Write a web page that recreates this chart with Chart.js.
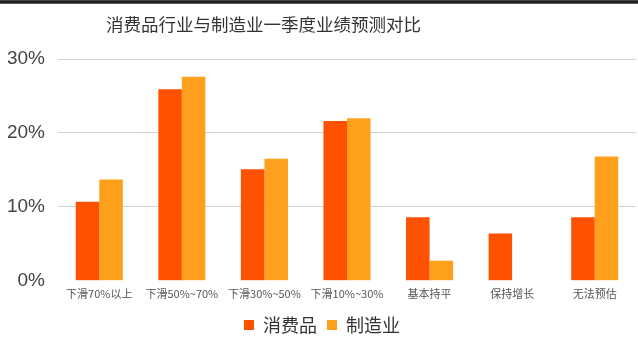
<!DOCTYPE html>
<html>
<head>
<meta charset="utf-8">
<script src="https://cdn.jsdelivr.net/npm/chart.js@4/dist/chart.umd.min.js"></script>
<style>
  html, body { margin: 0; padding: 0; background: #fff; }
  #wrap { position: relative; width: 638px; height: 354px; overflow: hidden; background: #fff; }
  #band { position: absolute; left: 0; top: 0; width: 638px; height: 4px; background: linear-gradient(#555, #1a1a1a 40%, #2a2a2a 80%, #aaa); }
  #title { position: absolute; left: 0; top: 14px; width: 527px; text-align: center; font: 17.5px "Noto Sans CJK SC", sans-serif; line-height: 20px; color: #333; }
  canvas { position: absolute; left: 0; top: 0; }
</style>
</head>
<body>
<div id="wrap">
  <canvas id="c" width="638" height="354"></canvas>
  <div id="band"></div>
  <div id="title">消费品行业与制造业一季度业绩预测对比</div>
</div>
<script>
const categories = ['下滑70%以上', '下滑50%~70%', '下滑30%~50%', '下滑10%~30%', '基本持平', '保持增长', '无法预估'];
const seriesNames = ['消费品', '制造业'];
const consumerValues = [10.7, 25.9, 15.1, 21.6, 8.6, 6.4, 8.6];
const manufacturingValues = [13.7, 27.6, 16.5, 22.0, 2.7, 0, 16.8];
const yTickValues = [0, 10, 20, 30];

const FONT = '"Liberation Sans", "Noto Sans CJK SC", sans-serif';

new Chart(document.getElementById('c'), {
  type: 'bar',
  data: {
    labels: categories,
    datasets: [
      { label: seriesNames[0], data: consumerValues, backgroundColor: '#FF5200', borderWidth: 0 },
      { label: seriesNames[1], data: manufacturingValues, backgroundColor: '#FFA01C', borderWidth: 0 }
    ]
  },
  options: {
    responsive: false,
    animation: false,
    devicePixelRatio: 1,
    layout: { padding: { top: 59, left: 8, right: 2, bottom: 10 } },
    datasets: { bar: { categoryPercentage: 0.57, barPercentage: 1.0 } },
    plugins: {
      title: { display: false },
      tooltip: { enabled: false },
      legend: {
        position: 'bottom',
        labels: {
          boxWidth: 10, boxHeight: 10, padding: 10,
          color: '#333',
          font: { family: '"Noto Sans CJK SC", sans-serif', size: 18 }
        }
      }
    },
    scales: {
      x: {
        grid: { display: false, drawTicks: false },
        border: { display: false },
        ticks: {
          color: '#555', padding: 6, maxRotation: 0, autoSkip: false,
          font: { family: '"Noto Sans CJK SC", sans-serif', size: 11 }
        }
      },
      y: {
        min: 0, max: 30,
        afterBuildTicks: (axis) => { axis.ticks = yTickValues.map(v => ({ value: v })); },
        afterFit: (axis) => { axis.width = 50; },
        grid: {
          drawTicks: false,
          color: (ctx) => (ctx.tick && ctx.tick.value === 0) ? 'rgba(0,0,0,0)' : '#d2d2d2',
          lineWidth: 1
        },
        border: { display: false },
        ticks: {
          color: '#444', padding: 13,
          font: { family: FONT, size: 19 },
          callback: (v) => v + '%'
        }
      }
    }
  }
});
</script>
</body>
</html>
